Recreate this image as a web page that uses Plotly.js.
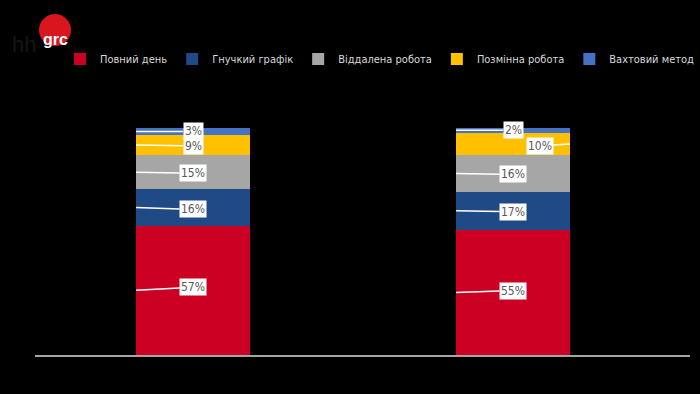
<!DOCTYPE html>
<html><head><meta charset="utf-8">
<script src="https://cdn.plot.ly/plotly-3.0.1.min.js"></script>
<style>body{margin:0;background:#000}#c{width:700px;height:394px}</style>
</head><body><div id="c"></div>
<script>
const categories = ["A", "B"];
const seriesNames = ["Повний день", "Гнучкий графік", "Віддалена робота", "Позмінна робота", "Вахтовий метод"];
const fullDay   = [57, 55];
const flexible  = [16, 17];
const remote    = [15, 16];
const shift     = [9, 10];
const rotation  = [3, 2];
const colors = ["#cc0022", "#1f4a86", "#a6a6a6", "#ffc000", "#4472c4"];
const series = [fullDay, flexible, remote, shift, rotation];
const barWidth = 0.356;

const traces = series.map((vals, i) => ({
  type: "bar", x: categories, y: vals, name: seriesNames[i],
  marker: {color: colors[i]}, width: barWidth, hoverinfo: "skip"
}));

const narrow = "DejaVu Sans Condensed, Liberation Sans Narrow, Arial, sans-serif";
const annotations = [];
const labelFont = {family: narrow, size: 12, color: "#595959"};
const tweaks = {
  "0-0": [-1, 57, -3], "0-1": [-1, 57, 2], "0-2": [-1, 57, 1], "0-3": [-1, 57, 1], "0-4": [-1, 57, 0],
  "1-0": [-1, 57, -2], "1-1": [-1, 57, 1], "1-2": [-1, 57, 1], "1-3": [1, -30, 2], "1-4": [-1, 57, 0]
};
categories.forEach((c, ci) => {
  let base = 0;
  series.forEach((vals, si) => {
    const v = vals[ci];
    const mid = base + v / 2;
    base += v;
    const t = tweaks[ci + "-" + si];
    annotations.push({
      x: ci + t[0] * barWidth / 2, y: mid, xref: "x", yref: "y",
      text: v + "%", showarrow: true, arrowhead: 0, arrowwidth: 1.5, arrowcolor: "#ffffff",
      ax: t[1], ay: t[2], bgcolor: "#ffffff", font: labelFont, borderpad: 1
    });
  });
});
annotations.push({xref: "paper", yref: "paper", x: (24 - 35) / 655, y: (355 - 30) / 227, xanchor: "center",
  text: "hh", showarrow: false, font: {family: "Liberation Sans, Arial, sans-serif", size: 22, color: "#161616"}});
annotations.push({xref: "paper", yref: "paper", x: (55 - 35) / 655, y: (355 - 29) / 227, xanchor: "center",
  text: "<b>grc</b>", showarrow: false, font: {family: "Liberation Sans, Arial, sans-serif", size: 16, color: "#ffffff"}});

const layout = {
  width: 700, height: 394, paper_bgcolor: "#000000", plot_bgcolor: "#000000",
  barmode: "stack", margin: {l: 35, r: 10, t: 128, b: 39},
  showlegend: true,
  legend: {orientation: "h", xref: "container", yref: "container", x: 60 / 700, xanchor: "left",
    y: 1 - 59 / 394, yanchor: "middle",
    font: {family: narrow, size: 11, color: "#d9d9d9"},
    itemwidth: 30, traceorder: "normal", bgcolor: "rgba(0,0,0,0)"},
  xaxis: {type: "category", range: [-0.494, 1.553], showticklabels: false, ticks: "", showgrid: false,
    zeroline: false, showline: true, linecolor: "#a6a6a6", linewidth: 1.5, fixedrange: true},
  yaxis: {range: [0, 100], visible: false, showgrid: false, zeroline: false, fixedrange: true},
  shapes: [{type: "circle", xref: "paper", yref: "paper",
    x0: (39 - 35) / 655, x1: (71 - 35) / 655, y0: (355 - 46) / 227, y1: (355 - 14) / 227,
    fillcolor: "#d9151d", line: {width: 0}}],
  annotations: annotations
};
Plotly.newPlot("c", traces, layout, {displayModeBar: false, staticPlot: true});
</script></body></html>
